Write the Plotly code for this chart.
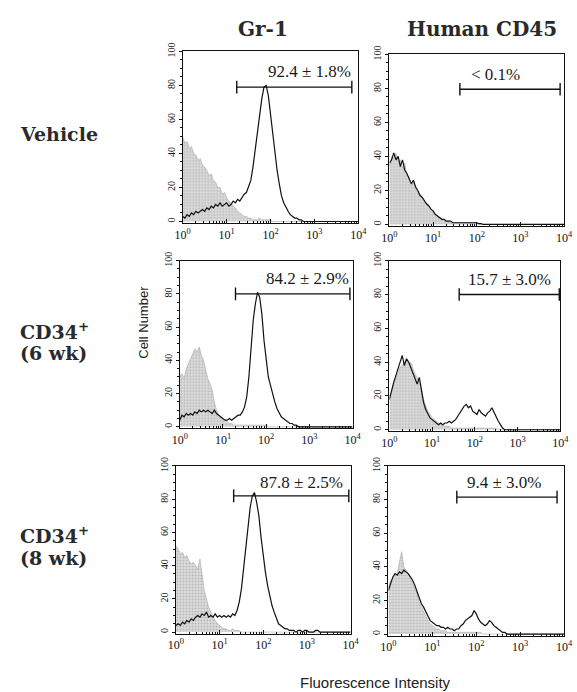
import math
import plotly.graph_objects as go

# ---------------- data ----------------
# histogram bin positions (log10 of fluorescence), 0.00 .. 4.00 in 0.05 steps
BIN_LOG = [round(0.05 * i, 2) for i in range(81)]
FLUOR = [10 ** b for b in BIN_LOG]

# Gr-1, Vehicle
GR1_VEH_STAIN = [3, 2, 4, 3, 5, 4, 6, 5, 6, 7, 6, 8, 7, 9, 8, 10, 9, 11, 9, 10,
                 11, 9, 10, 12, 11, 13, 12, 14, 16, 17, 20, 24, 32, 42, 52, 63, 72, 79, 80, 74,
                 62, 50, 40, 30, 22, 15, 11, 8, 6, 4, 3, 2, 2, 1, 1, 0, 0, 0, 0, 0,
                 0, 0, 0, 0, 0, 0, 0, 0, 0, 0, 0, 0, 0, 0, 0, 0, 0, 0, 0, 0, 0]
GR1_VEH_CTRL = [50, 46, 47, 43, 44, 40, 39, 36, 37, 33, 32, 30, 27, 28, 24, 23, 20, 20, 16, 17,
                14, 12, 11, 9, 8, 6, 5, 4, 3, 3, 2, 2, 1, 1, 1, 2, 1, 1, 1, 1,
                1, 0, 0, 0, 0, 0, 0, 0, 0, 0, 0, 0, 0, 0, 0, 0, 0, 0, 0, 0,
                0, 0, 0, 0, 0, 0, 0, 0, 0, 0, 0, 0, 0, 0, 0, 0, 0, 0, 0, 0, 0]
# Human CD45, Vehicle
CD45_VEH_STAIN = [36, 38, 42, 38, 40, 34, 38, 32, 30, 27, 24, 26, 22, 20, 17, 16, 14, 12, 11, 9,
                  8, 6, 5, 4, 3, 3, 2, 2, 2, 1, 1, 1, 1, 1, 1, 1, 1, 1, 1, 1,
                  1, 0.5, 0.5, 0, 0, 0, 0, 0, 0, 0, 0, 0, 0, 0, 0, 0, 0, 0, 0, 0,
                  0, 0, 0, 0, 0, 0, 0, 0, 0, 0, 0, 0, 0, 0, 0, 0, 0, 0, 0, 0, 0]
CD45_VEH_CTRL = [34, 40, 39, 42, 37, 38, 33, 36, 29, 28, 23, 25, 21, 19, 18, 15, 13, 13, 10, 9,
                 7, 6, 5, 4, 3, 2, 2, 2, 1, 1, 1, 1, 1, 1, 1, 1, 1, 1, 1, 1,
                 1, 0, 0, 0, 0, 0, 0, 0, 0, 0, 0, 0, 0, 0, 0, 0, 0, 0, 0, 0,
                 0, 0, 0, 0, 0, 0, 0, 0, 0, 0, 0, 0, 0, 0, 0, 0, 0, 0, 0, 0, 0]
# Gr-1, CD34+ (6 wk)
GR1_6WK_STAIN = [4, 7, 6, 8, 7, 8, 7, 9, 8, 10, 9, 10, 9, 10, 9, 8, 10, 8, 7, 6,
                 5, 4, 4, 5, 4, 5, 6, 7, 7, 9, 12, 18, 30, 46, 64, 74, 81, 78, 68, 52,
                 40, 30, 25, 19, 15, 11, 8, 6, 5, 4, 3, 2, 2, 1, 1, 0, 0, 0, 0, 0,
                 0, 0, 0, 0, 0, 0, 0, 0, 0, 0, 0, 0, 0, 0, 0, 0, 0, 0, 0, 0, 0]
GR1_6WK_CTRL = [30, 32, 29, 35, 38, 41, 44, 47, 45, 48, 43, 40, 34, 29, 26, 22, 15, 10, 7, 6,
                4, 4, 3, 2, 2, 1, 1, 1, 1, 1, 1, 1, 1, 1, 1, 1, 1, 1, 1, 1,
                1, 0, 0, 0, 0, 0, 0, 0, 0, 0, 0, 0, 0, 0, 0, 0, 0, 0, 0, 0,
                0, 0, 0, 0, 0, 0, 0, 0, 0, 0, 0, 0, 0, 0, 0, 0, 0, 0, 0, 0, 0]
# Human CD45, CD34+ (6 wk)
CD45_6WK_STAIN = [18, 24, 28, 32, 36, 40, 44, 38, 42, 40, 37, 34, 30, 27, 31, 24, 16, 12, 9, 7,
                  6, 5, 4, 3, 4, 3, 4, 4, 5, 4, 5, 6, 8, 10, 12, 14, 15, 13, 14, 11,
                  10, 9, 12, 10, 9, 8, 10, 11, 13, 10, 7, 5, 3, 1, 0, 0, 0, 0, 0, 0,
                  0, 0, 0, 0, 0, 0, 0, 0, 0, 0, 0, 0, 0, 0, 0, 0, 0, 0, 0, 0, 0]
CD45_6WK_CTRL = [20, 22, 27, 30, 33, 37, 38, 40, 41, 39, 40, 36, 33, 31, 28, 24, 18, 14, 11, 9,
                 7, 6, 5, 4, 3, 3, 2, 2, 2, 1, 1, 1, 1, 1, 1, 1, 1, 1, 1, 1,
                 1, 1, 1, 1, 1, 1, 1, 1, 1, 1, 1, 0, 0, 0, 0, 0, 0, 0, 0, 0,
                 0, 0, 0, 0, 0, 0, 0, 0, 0, 0, 0, 0, 0, 0, 0, 0, 0, 0, 0, 0, 0]
# Gr-1, CD34+ (8 wk)
GR1_8WK_STAIN = [4, 5, 4, 6, 5, 7, 6, 8, 7, 9, 10, 9, 11, 10, 12, 9, 10, 9, 11, 9,
                 10, 9, 10, 9, 10, 9, 11, 10, 13, 18, 26, 38, 52, 65, 75, 82, 84, 78, 70, 57,
                 46, 36, 28, 21, 16, 12, 8, 5, 4, 3, 2, 2, 1, 1, 1, 0, 1, 1, 0, 1,
                 1, 0, 0, 0, 1, 1, 0, 0, 0, 0, 0, 0, 0, 0, 0, 0, 0, 0, 0, 0, 0]
GR1_8WK_CTRL = [52, 50, 47, 48, 45, 46, 43, 41, 42, 40, 38, 44, 34, 25, 20, 15, 12, 9, 7, 5,
                4, 3, 2, 2, 1, 1, 2, 1, 1, 1, 0, 0, 0, 0, 0, 0, 0, 0, 0, 0,
                0, 0, 0, 0, 0, 0, 0, 0, 0, 0, 0, 0, 0, 0, 0, 0, 0, 0, 0, 0,
                0, 0, 0, 0, 0, 0, 0, 0, 0, 0, 0, 0, 0, 0, 0, 0, 0, 0, 0, 0, 0]
# Human CD45, CD34+ (8 wk)
CD45_8WK_STAIN = [26, 30, 34, 36, 35, 37, 36, 38, 37, 36, 34, 32, 29, 25, 22, 18, 16, 13, 10, 8,
                  7, 6, 5, 5, 4, 4, 3, 4, 3, 3, 2, 3, 3, 5, 6, 8, 9, 10, 11, 14,
                  12, 9, 7, 6, 5, 6, 8, 7, 5, 4, 3, 2, 1, 1, 0, 0, 0, 0, 0, 0,
                  0, 0, 0, 0, 0, 0, 0, 0, 0, 0, 0, 0, 0, 0, 0, 0, 0, 0, 0, 0, 0]
CD45_8WK_CTRL = [28, 32, 33, 35, 36, 42, 49, 40, 38, 36, 33, 30, 27, 24, 19, 16, 13, 11, 8, 6,
                 5, 4, 3, 3, 2, 2, 2, 1, 1, 1, 1, 1, 1, 1, 1, 1, 1, 1, 1, 1,
                 1, 1, 1, 0, 0, 0, 0, 0, 0, 0, 0, 0, 0, 0, 0, 0, 0, 0, 0, 0,
                 0, 0, 0, 0, 0, 0, 0, 0, 0, 0, 0, 0, 0, 0, 0, 0, 0, 0, 0, 0, 0]

STAIN = [GR1_VEH_STAIN, CD45_VEH_STAIN, GR1_6WK_STAIN, CD45_6WK_STAIN, GR1_8WK_STAIN, CD45_8WK_STAIN]
CTRL = [GR1_VEH_CTRL, CD45_VEH_CTRL, GR1_6WK_CTRL, CD45_6WK_CTRL, GR1_8WK_CTRL, CD45_8WK_CTRL]

# gate markers (fluorescence units) and percentages
GATE_LO = [17, 41, 19.5, 43, 21, 36]
GATE_HI = [7100, 8100, 8700, 9500, 9100, 6900]
GATE_Y = [79, 79.5, 80, 80, 82, 81.5]
GATE_TEXT = ["92.4 ± 1.8%", "< 0.1%", "84.2 ± 2.9%", "15.7 ± 3.0%", "87.8 ± 2.5%", "9.4 ± 3.0%"]
LABEL_X = [760, 275, 890, 660, 740, 450]
LABEL_Y = [88, 88, 89, 89, 90, 90]

COLUMN_TITLES = ["Gr-1", "Human CD45"]
ROW_LABELS = [["Vehicle"], ["CD34<sup>+</sup>", "(6 wk)"], ["CD34<sup>+</sup>", "(8 wk)"]]
X_TICKS = [1, 10, 100, 1000, 10000]
X_TICKTEXT = ["10<sup>0</sup>", "10<sup>1</sup>", "10<sup>2</sup>", "10<sup>3</sup>", "10<sup>4</sup>"]
Y_TICKS = [0, 20, 40, 60, 80, 100]

for arr in STAIN + CTRL:
    assert len(arr) == len(BIN_LOG), len(arr)

# ---------------- layout geometry (pixels) ----------------
W, H = 577, 692
# (left, right, top, bottom) of every plot box in pixels
BOXES = [(180, 361, 43, 217), (393, 573, 46, 220),
         (177, 355, 255, 425), (393, 569, 255, 428),
         (173, 353, 463, 633), (392, 573, 463, 635)]

SERIF = "Liberation Serif"
BOLD = "DejaVu Serif"
SANS = "Liberation Sans"

fig = go.Figure()
minor_vals = [m * 10 ** k for k in range(4) for m in range(2, 10)]

for i in range(6):
    n = "" if i == 0 else str(i + 1)
    xa, ya = "x" + n, "y" + n
    l, r, t, b = BOXES[i]
    fig.add_trace(go.Scatter(
        x=FLUOR, y=CTRL[i], xaxis=xa, yaxis=ya, mode="lines",
        line=dict(color="#a8a8a8", width=0.6), fill="tozeroy",
        fillcolor="#d2d2d2",
        fillpattern=dict(shape=".", fgcolor="#8c8c8c", bgcolor="#dedede", size=3, solidity=0.35),
        showlegend=False, hoverinfo="skip"))
    fig.add_trace(go.Scatter(
        x=FLUOR, y=STAIN[i], xaxis=xa, yaxis=ya, mode="lines",
        line=dict(color="#111111", width=1.2),
        showlegend=False, hoverinfo="skip"))
    fig.add_trace(go.Scatter(
        x=[GATE_LO[i], GATE_HI[i]], y=[GATE_Y[i], GATE_Y[i]], xaxis=xa, yaxis=ya,
        mode="lines+markers", line=dict(color="#111111", width=1.4),
        marker=dict(symbol="line-ns-open", size=9, line=dict(width=1.4, color="#111111")),
        showlegend=False, hoverinfo="skip"))
    fig.add_annotation(x=math.log10(LABEL_X[i]), y=LABEL_Y[i], xref=xa, yref=ya, text=GATE_TEXT[i],
                       showarrow=False, font=dict(family=SERIF, size=17, color="#1a1a1a"),
                       xanchor="center", yanchor="middle")
    fig.layout["xaxis" + n] = dict(
        domain=[l / W, r / W], anchor=ya, type="log", range=[0, 4],
        tickmode="array", tickvals=X_TICKS, ticktext=X_TICKTEXT,
        ticks="inside", ticklen=4, tickcolor="#111", tickwidth=1,
        minor=dict(tickmode="array", tickvals=minor_vals, ticks="inside", ticklen=2,
                   tickcolor="#111", showgrid=False),
        showline=True, linecolor="#111", linewidth=1.3, mirror=True,
        showgrid=False, zeroline=False,
        tickfont=dict(family=SERIF, size=12, color="#111"))
    fig.layout["yaxis" + n] = dict(
        domain=[1 - b / H, 1 - t / H], anchor=xa, range=[-1, 100],
        tickmode="array", tickvals=Y_TICKS, tickangle=-90,
        ticks="outside", ticklen=3, tickcolor="#111",
        minor=dict(dtick=5, ticks="outside", ticklen=2, tickcolor="#111", showgrid=False),
        showline=True, linecolor="#111", linewidth=1.3, mirror=True,
        showgrid=False, zeroline=False,
        tickfont=dict(family=SERIF, size=10, color="#111"))

# column titles
for txt, xc in zip(COLUMN_TITLES, [263, 488]):
    fig.add_annotation(x=xc / W, y=1 - 20 / H, xref="paper", yref="paper", text="<b>" + txt + "</b>",
                       showarrow=False, font=dict(family=BOLD, size=20, color="#2a2a2a"),
                       xanchor="center", yanchor="middle")

# row labels
ROW_Y = [[127], [326, 349], [533, 556]]
for lines, ys in zip(ROW_LABELS, ROW_Y):
    for txt, yy in zip(lines, ys):
        fig.add_annotation(x=10 / W, y=1 - yy / H, xref="paper", yref="paper", text="<b>" + txt + "</b>",
                           showarrow=False, font=dict(family=BOLD, size=19, color="#2a2a2a"),
                           xanchor="left", yanchor="middle")

# axis titles
fig.add_annotation(x=140 / W, y=1 - 317 / H, xref="paper", yref="paper", text="Cell Number",
                   textangle=-90, showarrow=False, font=dict(family=SANS, size=13, color="#222"),
                   xanchor="center", yanchor="middle")
fig.add_annotation(x=379 / W, y=1 - 682 / H, xref="paper", yref="paper", text="Fluorescence Intensity",
                   showarrow=False, font=dict(family=SANS, size=15, color="#222"),
                   xanchor="center", yanchor="middle")

fig.update_layout(width=W, height=H, margin=dict(l=0, r=0, t=0, b=0),
                  paper_bgcolor="white", plot_bgcolor="white")
fig.write_html("out.html", config={"displayModeBar": False},
               post_script="document.body.style.margin='0';document.body.style.overflow='hidden';")
